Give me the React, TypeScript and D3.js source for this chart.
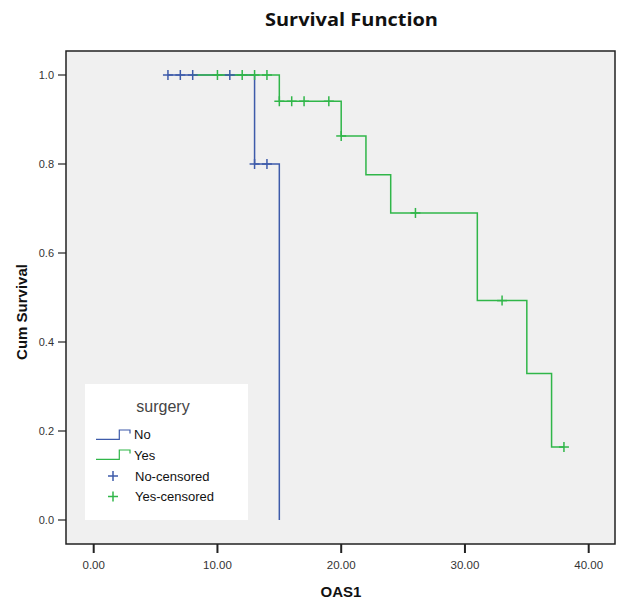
import React from "react";
import * as d3 from "d3";

// Kaplan-Meier step data (time, survival)
const noTimes = [6, 13, 15];
const noSurv = [1.0, 0.8, 0.0];
const yesTimes = [8, 15, 20, 22, 24, 31, 35, 37, 38];
const yesSurv = [1.0, 0.941, 0.863, 0.776, 0.69, 0.493, 0.329, 0.164, 0.164];

// censored observations
const noCensT = [6, 7, 8, 11, 13, 14];
const noCensS = [1.0, 1.0, 1.0, 1.0, 0.8, 0.8];
const yesCensT = [10, 12, 13, 14, 15, 16, 17, 19, 20, 26, 33, 38];
const yesCensS = [1.0, 1.0, 1.0, 1.0, 0.941, 0.941, 0.941, 0.941, 0.863, 0.69, 0.493, 0.164];

const xTicks = [0, 10, 20, 30, 40];
const yTicks = [0, 0.2, 0.4, 0.6, 0.8, 1.0];

const BLUE = "#3E5BAA";
const GREEN = "#30B649";

export default function App() {
  const W = 620, H = 601;
  const frame = { l: 66, t: 51, r: 615, b: 544 };
  const x = d3.scaleLinear().domain([0, 40]).range([93.7, 588.7]);
  const y = d3.scaleLinear().domain([0, 1]).range([520, 75]);

  const step = d3.line<[number, number]>().x(d => x(d[0])).y(d => y(d[1])).curve(d3.curveStepAfter);
  const noPts: [number, number][] = noTimes.map((t, i) => [t, noSurv[i]]);
  const yesPts: [number, number][] = yesTimes.map((t, i) => [t, yesSurv[i]]);

  const cross = (cx: number, cy: number, color: string, key: string) => (
    <g key={key} stroke={color} strokeWidth={1.5}>
      <line x1={cx - 5} x2={cx + 5} y1={cy} y2={cy} />
      <line x1={cx} x2={cx} y1={cy - 5} y2={cy + 5} />
    </g>
  );

  return (
    <svg width={W} height={H} style={{ position: "absolute", left: 0, top: 0, background: "#fff" }}
      fontFamily="Liberation Sans, Arial, sans-serif">
      <text x={351.5} y={26} textAnchor="middle" fontFamily="Open Sans, sans-serif" fontWeight="bold" fontSize={18} textLength={173} lengthAdjust="spacingAndGlyphs" fill="#111">Survival Function</text>
      <rect x={frame.l} y={frame.t} width={frame.r - frame.l} height={frame.b - frame.t} fill="#f0f0f0" stroke="#222" strokeWidth={1.5} />

      {/* y axis */}
      {yTicks.map(v => (
        <g key={"y" + v}>
          <line x1={58} x2={frame.l} y1={y(v)} y2={y(v)} stroke="#222" strokeWidth={1.2} />
          <text x={54} y={y(v) + 4} textAnchor="end" fontSize={11} fill="#333">{v.toFixed(1)}</text>
        </g>
      ))}
      <text transform={`translate(27,${312}) rotate(-90)`} textAnchor="middle" fontWeight="bold" fontSize={15} fill="#111">Cum Survival</text>

      {/* x axis */}
      {xTicks.map(v => (
        <g key={"x" + v}>
          <line x1={x(v)} x2={x(v)} y1={frame.b} y2={frame.b + 9} stroke="#222" strokeWidth={2} />
          <text x={x(v)} y={569} textAnchor="middle" fontSize={11.5} fill="#333">{v.toFixed(2)}</text>
        </g>
      ))}
      <text x={341} y={597} textAnchor="middle" fontWeight="bold" fontSize={15} fill="#111">OAS1</text>

      {/* curves */}
      <path d={step(noPts) || ""} fill="none" stroke={BLUE} strokeWidth={1.5} />
      <path d={step(yesPts) || ""} fill="none" stroke={GREEN} strokeWidth={1.5} />
      {noCensT.map((t, i) => cross(x(t), y(noCensS[i]), BLUE, "nc" + i))}
      {yesCensT.map((t, i) => cross(x(t), y(yesCensS[i]), GREEN, "yc" + i))}

      {/* legend */}
      <rect x={85} y={384} width={163} height={136} fill="#fff" />
      <text x={163} y={412} textAnchor="middle" fontSize={16} fill="#444">surgery</text>
      <path d="M96,439.3 H119.3 V430 H130 V433.5" fill="none" stroke={BLUE} strokeWidth={1.2} />
      <text x={134} y={439} fontSize={13} fill="#111">No</text>
      <path d="M96,459.3 H119.3 V450 H130 V453.5" fill="none" stroke={GREEN} strokeWidth={1.2} />
      <text x={134} y={460} fontSize={13} fill="#111">Yes</text>
      {cross(113, 476, BLUE, "lc1")}
      <text x={135} y={480.5} fontSize={13} fill="#111">No-censored</text>
      {cross(113, 496.5, GREEN, "lc2")}
      <text x={135} y={500.5} fontSize={13} fill="#111">Yes-censored</text>
    </svg>
  );
}
